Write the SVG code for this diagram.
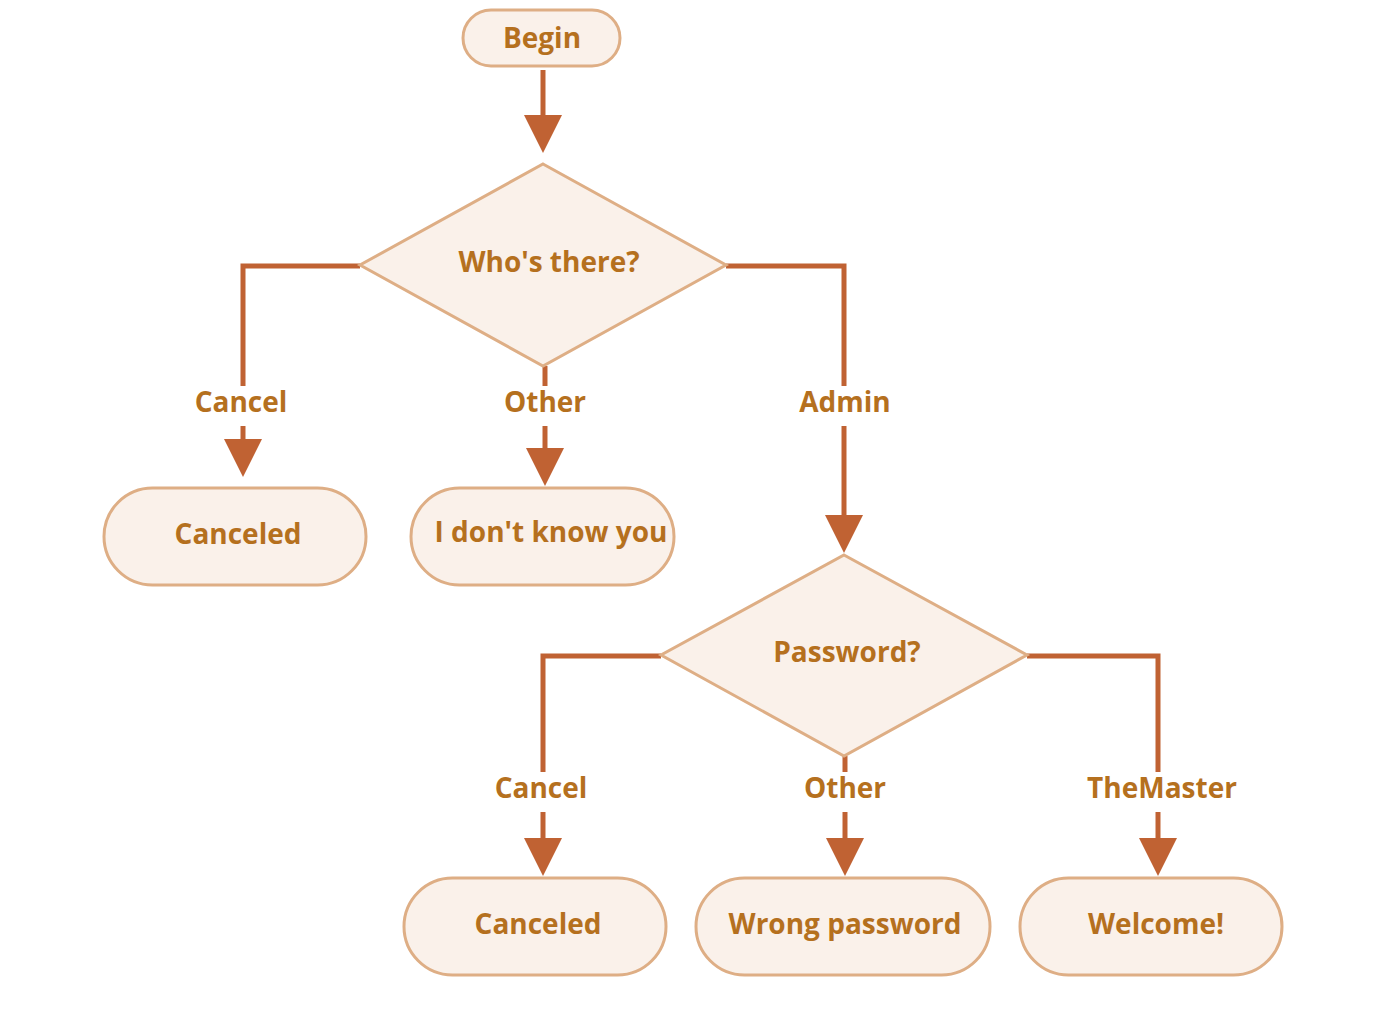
<svg xmlns="http://www.w3.org/2000/svg" width="1383" height="1011" viewBox="0 0 1383 1011">
<defs>
<marker id="ah" viewBox="0 0 38 38" markerUnits="userSpaceOnUse" markerWidth="38" markerHeight="38" refX="0" refY="19" orient="auto">
<path d="M0,0 L38,19 L0,38 z" fill="#C06233"/>
</marker>
<style>
.node{fill:#FAF1EA;stroke:#DEAE85;stroke-width:3}
.txt{font-family:"Open Sans","Noto Sans",sans-serif;font-weight:bold;font-size:28px;fill:#B5701E;text-anchor:middle}
.edge{fill:none;stroke:#C06233;stroke-width:5}
.arr{fill:none;stroke:#C06233;stroke-width:5;marker-end:url(#ah)}
</style>
</defs>
<rect width="1383" height="1011" fill="#FFFFFF"/>
<g id="connectors">
<line class="arr" x1="543" y1="70" x2="543" y2="115"/>
<path class="edge" d="M360,266 H243 V386"/>
<line class="arr" x1="243" y1="426" x2="243" y2="439"/>
<path class="edge" d="M545,366 V386"/>
<line class="arr" x1="545" y1="426" x2="545" y2="448"/>
<path class="edge" d="M726,266 H844 V386"/>
<line class="arr" x1="844" y1="426" x2="844" y2="515"/>
<path class="edge" d="M661,656 H543 V772"/>
<line class="arr" x1="543" y1="812" x2="543" y2="838"/>
<path class="edge" d="M845,756 V772"/>
<line class="arr" x1="845" y1="812" x2="845" y2="838"/>
<path class="edge" d="M1027,656 H1158 V772"/>
<line class="arr" x1="1158" y1="812" x2="1158" y2="838"/>
<text class="txt" x="241" y="412">Cancel</text>
<text class="txt" x="545" y="412">Other</text>
<text class="txt" x="845" y="412">Admin</text>
<text class="txt" x="541" y="798">Cancel</text>
<text class="txt" x="845" y="798">Other</text>
<text class="txt" x="1162" y="798">TheMaster</text>
</g>
<g id="begin">
<rect class="node" x="463" y="10" width="157" height="56" rx="28"/>
<text class="txt" x="542" y="48">Begin</text>
</g>
<g id="whos-there">
<polygon class="node" points="543,164 726,265 543,366 360,265"/>
<text class="txt" x="549" y="272">Who's there?</text>
</g>
<g id="canceled-1">
<rect class="node" x="104" y="488" width="262" height="97" rx="48.5"/>
<text class="txt" x="238" y="544">Canceled</text>
</g>
<g id="dont-know">
<rect class="node" x="411" y="488" width="263" height="97" rx="48.5"/>
<text class="txt" x="551" y="542">I don't know you</text>
</g>
<g id="password">
<polygon class="node" points="844,555 1027,655 844,756 661,655"/>
<text class="txt" x="847" y="662">Password?</text>
</g>
<g id="canceled-2">
<rect class="node" x="404" y="878" width="262" height="97" rx="48.5"/>
<text class="txt" x="538" y="934">Canceled</text>
</g>
<g id="wrong-password">
<rect class="node" x="696" y="878" width="294" height="97" rx="48.5"/>
<text class="txt" x="845" y="934">Wrong password</text>
</g>
<g id="welcome">
<rect class="node" x="1020" y="878" width="262" height="97" rx="48.5"/>
<text class="txt" x="1156" y="934">Welcome!</text>
</g>
</svg>
